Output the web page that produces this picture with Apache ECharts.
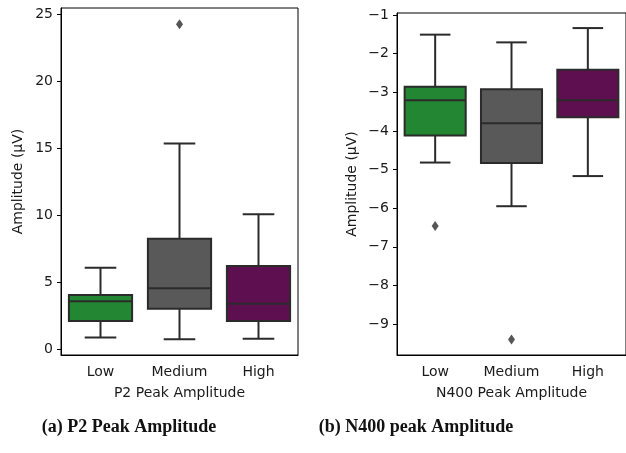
<!DOCTYPE html>
<html>
<head>
<meta charset="utf-8">
<script src="https://cdn.jsdelivr.net/npm/echarts@6/dist/echarts.min.js"></script>
<style>
html, body { margin: 0; padding: 0; background: #fff; }
#chart { width: 626px; height: 453px; }
</style>
</head>
<body>
<div id="chart"></div>
<script>
// categories and box stats: [min whisker, Q1, median, Q3, max whisker]
var categories = ['Low', 'Medium', 'High'];
var boxColors = ['#238632', '#595959', '#5e0f4f'];

var p2Stats = [
	[0.89, 2.11, 3.58, 4.05, 6.09],
	[0.75, 3.03, 4.55, 8.25, 15.34],
	[0.80, 2.11, 3.41, 6.21, 10.07]
];
var p2Outliers = [[1, 24.24]];
var p2Ticks = [0, 5, 10, 15, 20, 25];

var n400Stats = [
	[-4.82, -4.12, -3.21, -2.86, -1.51],
	[-5.95, -4.83, -3.80, -2.92, -1.71],
	[-5.17, -3.65, -3.21, -2.42, -1.34]
];
var n400Outliers = [[0, -6.46], [1, -9.40]];
var n400Ticks = [-1, -2, -3, -4, -5, -6, -7, -8, -9];

var lineColor = '#2b2b2b';
var font = 'DejaVu Sans';

function toItems(stats) {
	return stats.map(function(s, i) {
		return [i, s[0], s[1], s[2], s[3], s[4]];
	});
}

function renderBox(params, api) {
	var idx = api.value(0);
	var band = api.size([1, 0])[0];
	var boxW = band * 0.8;
	var capW = boxW / 2;
	var lo = api.coord([idx, api.value(1)]);
	var q1 = api.coord([idx, api.value(2)]);
	var med = api.coord([idx, api.value(3)]);
	var q3 = api.coord([idx, api.value(4)]);
	var hi = api.coord([idx, api.value(5)]);
	var cx = lo[0];
	var st = { stroke: lineColor, lineWidth: 2 };
	return {
		type: 'group',
		children: [
			{ type: 'line', shape: { x1: cx, y1: q1[1], x2: cx, y2: lo[1] }, style: st },
			{ type: 'line', shape: { x1: cx, y1: q3[1], x2: cx, y2: hi[1] }, style: st },
			{ type: 'line', shape: { x1: cx - capW / 2, y1: lo[1], x2: cx + capW / 2, y2: lo[1] }, style: st },
			{ type: 'line', shape: { x1: cx - capW / 2, y1: hi[1], x2: cx + capW / 2, y2: hi[1] }, style: st },
			{ type: 'rect', shape: { x: cx - boxW / 2, y: q3[1], width: boxW, height: q1[1] - q3[1] },
				style: { fill: boxColors[idx], stroke: lineColor, lineWidth: 2 } },
			{ type: 'line', shape: { x1: cx - boxW / 2, y1: med[1], x2: cx + boxW / 2, y2: med[1] }, style: st }
		]
	};
}

function fmtMinus(v) {
	return String(v).replace('-', '\u2212');
}

var axisText = { fontFamily: font, fontSize: 14, color: '#1a1a1a' };

var chart = echarts.init(document.getElementById('chart'));
chart.setOption({
	animation: false,
	grid: [
		{ left: 61, top: 8, width: 237, height: 347, show: true, borderColor: '#000', borderWidth: 1 },
		{ left: 397, top: 13, width: 234, height: 342, show: true, borderColor: '#000', borderWidth: 1 }
	],
	xAxis: [0, 1].map(function(g) {
		return {
			type: 'category',
			gridIndex: g,
			data: categories,
			name: g === 0 ? 'P2 Peak Amplitude' : 'N400 Peak Amplitude',
			nameLocation: 'middle',
			nameGap: 31,
			nameTextStyle: axisText,
			axisLine: { onZero: false, lineStyle: { color: '#000', width: 1 } },
			axisTick: { alignWithLabel: true, length: 4, lineStyle: { color: '#000' } },
			axisLabel: Object.assign({ margin: 10 }, axisText),
			splitLine: { show: false }
		};
	}),
	yAxis: [
		{
			type: 'value', gridIndex: 0, min: -0.42, max: 25.45,
			name: 'Amplitude (\u00b5V)', nameLocation: 'middle', nameGap: 36,
			nameTextStyle: axisText,
			axisLine: { show: true, onZero: false, lineStyle: { color: '#000' } },
			axisTick: { show: true, length: 4, customValues: p2Ticks, lineStyle: { color: '#000' } },
			axisLabel: Object.assign({ margin: 8, customValues: p2Ticks }, axisText),
			splitLine: { show: false }
		},
		{
			type: 'value', gridIndex: 1, min: -9.8, max: -0.95,
			name: 'Amplitude (\u00b5V)', nameLocation: 'middle', nameGap: 38,
			nameTextStyle: axisText,
			axisLine: { show: true, onZero: false, lineStyle: { color: '#000' } },
			axisTick: { show: true, length: 4, customValues: n400Ticks, lineStyle: { color: '#000' } },
			axisLabel: Object.assign({ margin: 8, customValues: n400Ticks, formatter: fmtMinus }, axisText),
			splitLine: { show: false }
		}
	],
	series: [
		{ type: 'custom', xAxisIndex: 0, yAxisIndex: 0, renderItem: renderBox, data: toItems(p2Stats), z: 2 },
		{ type: 'custom', xAxisIndex: 1, yAxisIndex: 1, renderItem: renderBox, data: toItems(n400Stats), z: 2 },
		{ type: 'scatter', xAxisIndex: 0, yAxisIndex: 0, data: p2Outliers, symbol: 'diamond', symbolSize: [7, 10],
			itemStyle: { color: '#2b2b2b' }, z: 3 },
		{ type: 'scatter', xAxisIndex: 1, yAxisIndex: 1, data: n400Outliers, symbol: 'diamond', symbolSize: [7, 10],
			itemStyle: { color: '#2b2b2b' }, z: 3 }
	],
	graphic: [
		{ type: 'text', x: 129, y: 427, style: { text: '(a) P2 Peak Amplitude', font: 'bold 18px "Liberation Serif"',
			fill: '#111', align: 'center', verticalAlign: 'middle' } },
		{ type: 'text', x: 416, y: 427, style: { text: '(b) N400 peak Amplitude', font: 'bold 18px "Liberation Serif"',
			fill: '#111', align: 'center', verticalAlign: 'middle' } }
	]
});
</script>
</body>
</html>
